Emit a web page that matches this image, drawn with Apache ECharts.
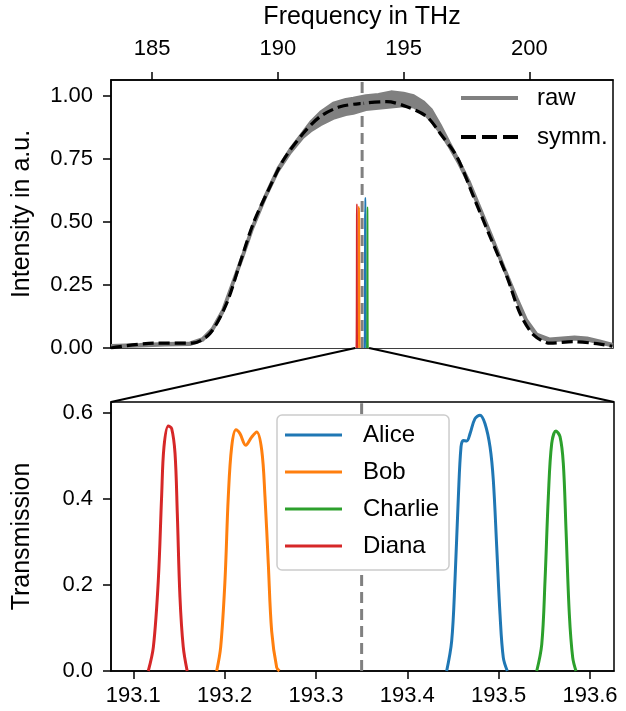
<!DOCTYPE html>
<html>
<head>
<meta charset="utf-8">
<script src="https://cdn.jsdelivr.net/npm/echarts@6/dist/echarts.min.js"></script>
<style>html,body{margin:0;padding:0;background:#fff}#c{width:626px;height:711px}</style>
</head>
<body>
<div id="c"></div>
<script>
// ---- data ----
const centerFreq = 193.35;
const topTicksX = [185, 190, 195, 200];
const topTicksY = [0, 0.25, 0.5, 0.75, 1.0];
const botTicksX = [193.1, 193.2, 193.3, 193.4, 193.5, 193.6];
const botTicksY = [0, 0.2, 0.4, 0.6];

const rawX  = [183.36,184.5,185.5,186.5,187.0,187.4,187.8,188.2,188.6,189.0,189.5,190.0,190.5,191.0,191.3,191.7,192.2,192.7,193.0,193.5,194.0,194.5,195.0,195.4,195.8,196.1,196.45,196.8,197.2,197.6,198.0,198.5,199.0,199.5,199.9,200.3,200.8,201.3,201.8,202.3,202.8,203.33];
const rawLo = [0.005,0.008,0.012,0.014,0.03,0.07,0.14,0.25,0.36,0.475,0.595,0.70,0.775,0.835,0.86,0.885,0.91,0.925,0.93,0.945,0.95,0.955,0.96,0.955,0.93,0.90,0.855,0.80,0.73,0.65,0.555,0.435,0.31,0.19,0.10,0.045,0.028,0.032,0.036,0.032,0.02,0.008];
const rawHi = [0.010,0.014,0.018,0.02,0.037,0.078,0.15,0.26,0.37,0.485,0.605,0.712,0.79,0.855,0.895,0.935,0.97,0.985,0.99,1.0,1.005,1.015,1.01,1.0,0.975,0.945,0.885,0.818,0.742,0.662,0.566,0.446,0.32,0.2,0.11,0.055,0.036,0.04,0.044,0.04,0.028,0.014];

const symmX = [183.36,185.04,186.6,187.3,187.96,188.49,189.02,189.56,190.22,191.01,191.68,192.47,193.4,194.33,195.13,195.92,196.45,197.12,197.78,198.44,199.11,199.63,200.17,200.83,201.76,202.69,203.3];
const symmY = [0.0,0.019,0.019,0.058,0.177,0.336,0.494,0.613,0.745,0.851,0.917,0.956,0.97,0.976,0.956,0.917,0.851,0.758,0.60,0.441,0.283,0.137,0.052,0.019,0.025,0.017,0.007];

const names = ['Alice','Bob','Charlie','Diana'];
const colors = ['#1f77b4','#ff7f0e','#2ca02c','#d62728'];
const aliceX = [193.4431,193.4486,193.4522,193.4559,193.4588,193.4613,193.465,193.4687,193.4741,193.4796,193.4851,193.4906,193.4942,193.4979,193.5015,193.5051,193.5095];
const aliceY = [0,0.07,0.211,0.405,0.521,0.536,0.535,0.552,0.587,0.595,0.575,0.521,0.443,0.288,0.132,0.031,0];
const bobX = [193.1913,193.1957,193.2004,193.204,193.2077,193.2124,193.2168,193.2231,193.2296,193.2351,193.2406,193.2442,193.2478,193.2515,193.257,193.26];
const bobY = [0,0.056,0.211,0.405,0.521,0.561,0.552,0.525,0.544,0.556,0.514,0.405,0.25,0.093,0.008,0];
const charlieX = [193.5417,193.5472,193.5508,193.5544,193.5581,193.5628,193.5672,193.5708,193.5738,193.5774,193.5811,193.5847];
const charlieY = [0,0.062,0.211,0.405,0.529,0.558,0.545,0.483,0.327,0.132,0.031,0];
const dianaX = [193.1164,193.122,193.1274,193.131,193.1336,193.1383,193.142,193.1457,193.1482,193.1511,193.1547,193.159];
const dianaY = [0,0.056,0.211,0.405,0.521,0.570,0.564,0.506,0.366,0.172,0.056,0];

const topRange = [183.36, 203.33, 0, 1.062];
const botRange = [193.0756, 193.6263, 0, 0.6256];

// ---- build ----
const zip = (xs, ys) => xs.map((x, i) => [x, ys[i]]);
const filt = [[aliceX,aliceY],[bobX,bobY],[charlieX,charlieY],[dianaX,dianaY]];
const FONT = 'Liberation Sans';
const txt = {fontFamily: FONT, fontSize: 22, color: '#000'};
const GREY = '#808080';

function valAxis(extra) {
  return Object.assign({
    type: 'value', scale: false, splitLine: {show: false},
    axisLine: {show: true, onZero: false, lineStyle: {color: '#000', width: 1.5}},
    nameTextStyle: {fontFamily: FONT, fontSize: 25, color: '#000'}
  }, extra);
}
function ticks(vals) { return {show: true, length: 8, customValues: vals, lineStyle: {color: '#000', width: 1.5}}; }

const series = [];
// bottom filters
filt.forEach((f, i) => {
  series.push({name: names[i], type: 'line', xAxisIndex: 1, yAxisIndex: 1, data: zip(f[0], f[1]),
    smooth: 0.35, symbol: 'none', lineStyle: {color: colors[i], width: 3}, itemStyle: {color: colors[i]}, z: 3});
});
// raw: filled band between the low and high envelope (grey area to hi, white area to lo)
series.push({name: 'raw', type: 'line', xAxisIndex: 0, yAxisIndex: 0, data: zip(rawX, rawHi), symbol: 'none',
  lineStyle: {color: GREY, width: 3}, itemStyle: {color: GREY}, areaStyle: {color: GREY, opacity: 1}, z: 1});
series.push({name: 'rawLo', type: 'line', xAxisIndex: 0, yAxisIndex: 0, data: zip(rawX, rawLo), symbol: 'none',
  lineStyle: {color: GREY, width: 3}, areaStyle: {color: '#ffffff', opacity: 1}, z: 1});
series.push({name: 'symm.', type: 'line', xAxisIndex: 0, yAxisIndex: 0, data: zip(symmX, symmY), symbol: 'none', smooth: 0.3,
  lineStyle: {color: '#000', width: 3.2, type: [11, 5]}, itemStyle: {color: '#000'}, z: 2});
// top filters
filt.forEach((f, i) => {
  series.push({name: names[i], type: 'line', xAxisIndex: 0, yAxisIndex: 0, data: zip(f[0], f[1]),
    smooth: 0.35, symbol: 'none', lineStyle: {color: colors[i], width: 1.5}, z: 3});
});
// center markers (vertical dashed line at the centre frequency, spanning each axis)
[[0, topRange], [1, botRange]].forEach(([k, r]) => {
  series.push({id: 'center' + k, name: 'center' + k, type: 'line', xAxisIndex: k, yAxisIndex: k,
    data: [[centerFreq, r[2]], [centerFreq, r[3]]], symbol: 'none', silent: true, connectNulls: false,
    lineStyle: {color: GREY, width: 3, type: [11, 6]}, z: 2});
});

const dashIcon = 'path://M0,0h15v4h-15zM21,0h15v4h-15zM42,0h15v4h-15z';
const legendText = {fontFamily: FONT, fontSize: 24, color: '#000', lineHeight: 24};

const chart = echarts.init(document.getElementById('c'), null, {renderer: 'canvas'});
chart.setOption({
  animation: false,
  backgroundColor: '#fff',
  grid: [
    {left: 111, top: 80, width: 502, height: 268, show: true, borderColor: '#000', borderWidth: 1.5, backgroundColor: 'transparent'},
    {left: 111, top: 402, width: 503, height: 269, show: true, borderColor: '#000', borderWidth: 1.5, backgroundColor: 'transparent'}
  ],
  xAxis: [
    valAxis({gridIndex: 0, position: 'top', min: topRange[0], max: topRange[1], name: 'Frequency in THz', nameLocation: 'middle', nameGap: 50,
      axisTick: ticks(topTicksX),
      axisLabel: Object.assign({customValues: topTicksX, margin: 20, formatter: v => String(Math.round(v))}, txt)}),
    valAxis({gridIndex: 1, min: botRange[0], max: botRange[1],
      axisTick: ticks(botTicksX),
      axisLabel: Object.assign({customValues: botTicksX, margin: 14, formatter: v => v.toFixed(1)}, txt)})
  ],
  yAxis: [
    valAxis({gridIndex: 0, min: topRange[2], max: topRange[3], name: 'Intensity in a.u.', nameLocation: 'middle', nameGap: 76,
      axisTick: ticks(topTicksY),
      axisLabel: Object.assign({customValues: topTicksY, margin: 18, formatter: v => v.toFixed(2)}, txt)}),
    valAxis({gridIndex: 1, min: botRange[2], max: botRange[3], name: 'Transmission', nameLocation: 'middle', nameGap: 76,
      axisTick: ticks(botTicksY),
      axisLabel: Object.assign({customValues: botTicksY, margin: 18, formatter: v => v.toFixed(1)}, txt)})
  ],
  legend: [
    {data: [{name: 'raw', icon: 'rect'}, {name: 'symm.', icon: dashIcon}], orient: 'vertical', left: 456, top: 81,
      itemWidth: 57, itemHeight: 4, itemGap: 15, z: 20,
      textStyle: Object.assign({padding: [0, 0, 0, 14]}, legendText), selectedMode: false},
    {data: names.map(n => ({name: n, icon: 'rect'})), orient: 'vertical', left: 277, top: 415,
      itemWidth: 57, itemHeight: 3, itemGap: 13, z: 20,
      padding: [8, 10, 12, 8], borderColor: '#cccccc', borderWidth: 1.5, borderRadius: 5, backgroundColor: '#ffffff',
      textStyle: Object.assign({padding: [0, 0, 0, 16]}, legendText), selectedMode: false}
  ],
  series: series
});

// zoom connector lines computed from axes
const p1 = chart.convertToPixel({xAxisIndex: 0, yAxisIndex: 0}, [botRange[0], 0]);
const p2 = chart.convertToPixel({xAxisIndex: 0, yAxisIndex: 0}, [botRange[1], 0]);
const q1 = chart.convertToPixel({xAxisIndex: 1, yAxisIndex: 1}, [botRange[0], botRange[3]]);
const q2 = chart.convertToPixel({xAxisIndex: 1, yAxisIndex: 1}, [botRange[1], botRange[3]]);

// interrupt the lower centre line where the framed legend sits (legend box read from its layout)
let box = {x: 277, y: 415, width: 171, height: 157};
try {
  const lm = chart.getModel().getComponent('legend', 1);
  const lv = chart.getViewOfComponentModel(lm);
  const br = lv.group.getBoundingRect();
  box = {x: br.x + lv.group.x, y: br.y + lv.group.y, width: br.width, height: br.height};
} catch (e) {}
const yTopOfBox = chart.convertFromPixel({xAxisIndex: 1, yAxisIndex: 1}, [box.x, box.y])[1];
const yBotOfBox = chart.convertFromPixel({xAxisIndex: 1, yAxisIndex: 1}, [box.x, box.y + box.height])[1];

chart.setOption({
  series: [{id: 'center1', data: [[centerFreq, botRange[2]], [centerFreq, yBotOfBox], [centerFreq, '-'],
    [centerFreq, Math.min(yTopOfBox, botRange[3])], [centerFreq, botRange[3]]]}],
  graphic: [
    {type: 'line', shape: {x1: p1[0], y1: p1[1], x2: q1[0], y2: q1[1]}, style: {stroke: '#000', lineWidth: 2}, z: 10},
    {type: 'line', shape: {x1: p2[0], y1: p2[1], x2: q2[0], y2: q2[1]}, style: {stroke: '#000', lineWidth: 2}, z: 10}
  ]
});
</script>
</body>
</html>
